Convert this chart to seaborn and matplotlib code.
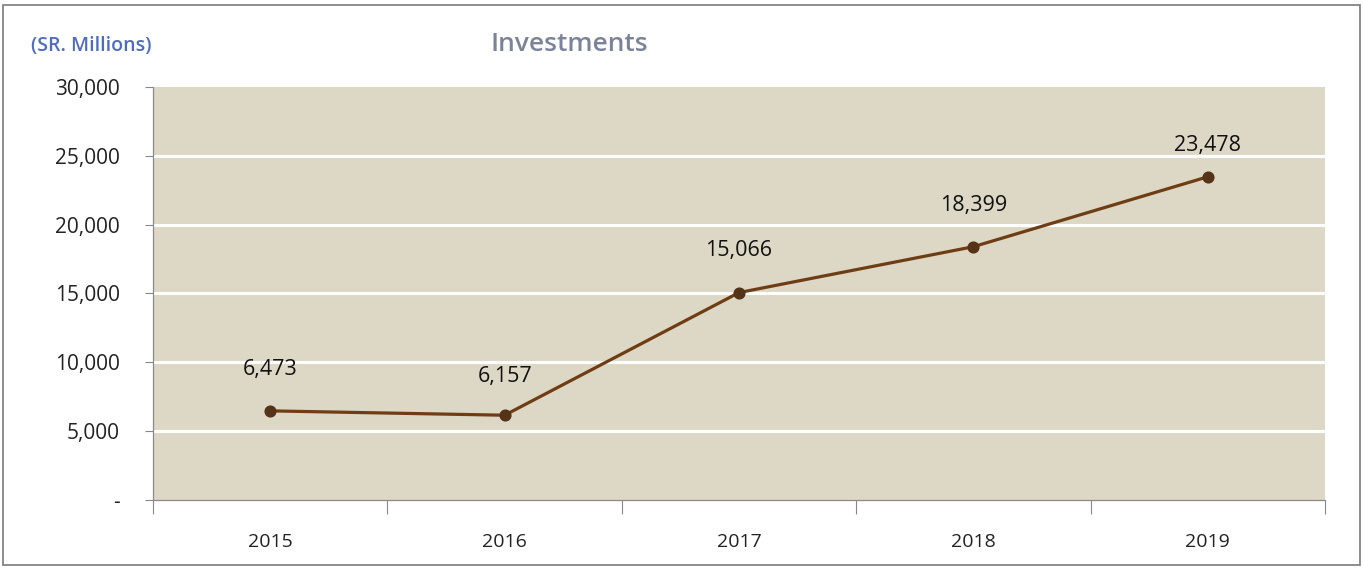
import matplotlib
matplotlib.use("Agg")
import matplotlib.pyplot as plt
from matplotlib.patches import Rectangle
from matplotlib.ticker import FuncFormatter, FixedLocator
import numpy as np
import pandas as pd
import seaborn as sns

years = ["2015", "2016", "2017", "2018", "2019"]
investments = [6473, 6157, 15066, 18399, 23478]
y_ticks = [0, 5000, 10000, 15000, 20000, 25000, 30000]

sns.set_theme(style="white")
plt.rcParams["font.family"] = ["Open Sans", "DejaVu Sans"]

df = pd.DataFrame({"year": years, "value": investments})

fig = plt.figure(figsize=(13.63, 5.69), dpi=100)
ax = fig.add_axes([0.1123, 0.1213, 0.8598, 0.7258])
ax.set_facecolor("#dcd8c5")

sns.pointplot(data=df, x="year", y="value", ax=ax, color="#6e3d14",
              markers="o", markersize=7, linewidth=2.3, errorbar=None, zorder=5)
for line in ax.lines:
    line.set_markerfacecolor("#553317")
    line.set_markeredgecolor("#553317")

ax.set_xlim(-0.5, len(years) - 0.5)
ax.set_ylim(0, 30000)

# white gridlines inside the plot area
for yv in y_ticks[1:-1]:
    ax.axhline(yv, color="white", lw=2.2, zorder=1)

ax.set_yticks(y_ticks)
ax.yaxis.set_major_formatter(FuncFormatter(lambda v, p: "-" if v == 0 else f"{int(v):,}"))
ax.tick_params(axis="y", length=6, width=0.8, color="#888888", pad=18,
               labelsize=15, labelcolor="#222222", left=True)

# category labels centred, tick marks between categories
ax.set_xticks(range(len(years)))
ax.set_xticklabels(years)
ax.xaxis.set_minor_locator(FixedLocator(np.arange(-0.5, len(years), 1.0)))
ax.tick_params(axis="x", which="major", length=0, pad=24, labelsize=14,
               labelcolor="#222222")
ax.tick_params(axis="x", which="minor", length=10, width=0.8, color="#888888",
               bottom=True)

ax.set_xlabel("")
ax.set_ylabel("")
for side in ["top", "right"]:
    ax.spines[side].set_visible(False)
for side in ["left", "bottom"]:
    ax.spines[side].set_color("#8a8a8a")
    ax.spines[side].set_linewidth(0.9)

# value labels above each point (the last one sits a little lower)
label_offsets = [22, 20, 23, 22, 15]
for i, v in enumerate(investments):
    ax.annotate(f"{v:,}", (i, v), xytext=(0, label_offsets[i]),
                textcoords="offset points", ha="center", va="bottom",
                fontsize=15.5, color="#111111", zorder=6)

fig.text(0.4175, 0.922, "Investments", fontsize=19, fontweight="semibold",
         color="#7a8399", ha="center", va="center")
fig.text(0.023, 0.919, "(SR. Millions)", fontsize=14, fontweight="semibold",
         color="#4f6cc2", ha="left", va="center")

fig.patches.append(Rectangle((0.002, 0.007), 0.996, 0.984, transform=fig.transFigure,
                             fill=False, edgecolor="#7a7a7a", linewidth=1.2))

fig.savefig("out.png", dpi=100)
